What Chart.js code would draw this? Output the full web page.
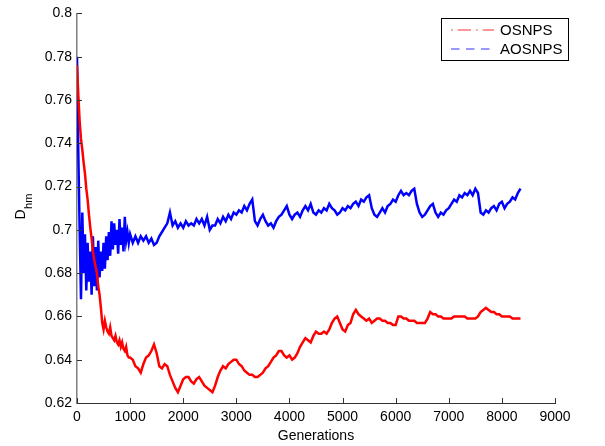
<!DOCTYPE html>
<html>
<head>
<meta charset="utf-8">
<script src="https://cdn.jsdelivr.net/npm/chart.js@4"></script>
<style>
  html, body { margin: 0; padding: 0; background: #fff; }
  canvas { display: block; }
</style>
</head>
<body>
<canvas id="c" width="605" height="446"></canvas>
<script>
// ---- Data ----
const seriesNames = ['OSNPS', 'AOSNPS'];

// sampling grid of generations: every 25 up to 1000, then every 50 up to 8350
const gens = [];
for (let g = 0; g <= 1000; g += 25) gens.push(g);
for (let g = 1050; g <= 8350; g += 50) gens.push(g);

// OSNPS, generations 0..1000 (step 25)
const osnpsEarly = [
  0.776, 0.762, 0.750, 0.742, 0.737, 0.731, 0.726, 0.719, 0.714, 0.707,
  0.701, 0.696, 0.690, 0.686, 0.683, 0.680, 0.674, 0.670, 0.664, 0.657,
  0.654, 0.658, 0.655, 0.653, 0.652, 0.655, 0.651, 0.650, 0.649, 0.651,
  0.648, 0.647, 0.649, 0.646, 0.648, 0.645, 0.644, 0.646, 0.642, 0.641,
  0.641
];
// OSNPS, generations 1050..8350 (step 50)
const osnpsLate = [
  0.640, 0.637, 0.636, 0.634, 0.638, 0.641, 0.642, 0.644, 0.647,
  0.643, 0.637, 0.636, 0.638, 0.637, 0.633, 0.630, 0.627, 0.625, 0.628,
  0.631, 0.632, 0.632, 0.630, 0.629, 0.631, 0.632, 0.630, 0.628, 0.627,
  0.626, 0.625, 0.628, 0.632, 0.635, 0.637, 0.636, 0.638, 0.639, 0.640,
  0.640, 0.638, 0.637, 0.635, 0.634, 0.633, 0.633, 0.632, 0.632, 0.633,
  0.634, 0.636, 0.637, 0.639, 0.641, 0.642, 0.644, 0.644, 0.642, 0.641,
  0.642, 0.640, 0.641, 0.643, 0.646, 0.648, 0.650, 0.649, 0.648, 0.651,
  0.653, 0.652, 0.652, 0.653, 0.652, 0.654, 0.657, 0.659, 0.660, 0.657,
  0.654, 0.653, 0.656, 0.657, 0.661, 0.663, 0.661, 0.660, 0.659, 0.658,
  0.659, 0.657, 0.658, 0.659, 0.659, 0.658, 0.658, 0.657, 0.657, 0.656,
  0.656, 0.660, 0.660, 0.659, 0.659, 0.658, 0.658, 0.658, 0.657, 0.657,
  0.657, 0.657, 0.659, 0.662, 0.661, 0.661, 0.660, 0.660, 0.659, 0.659,
  0.659, 0.659, 0.660, 0.660, 0.660, 0.660, 0.660, 0.659, 0.659, 0.659,
  0.659, 0.660, 0.662, 0.663, 0.664, 0.663, 0.662, 0.662, 0.661, 0.661,
  0.660, 0.660, 0.660, 0.660, 0.659, 0.659, 0.659, 0.659
];

// AOSNPS, generations 0..1000 (step 25)
const aosnpsEarly = [
  0.780, 0.735, 0.700, 0.668, 0.708, 0.680, 0.698, 0.672, 0.694, 0.676,
  0.690, 0.670, 0.697, 0.674, 0.692, 0.672, 0.695, 0.678, 0.690, 0.681,
  0.694, 0.682, 0.697, 0.686, 0.699, 0.688, 0.704, 0.691, 0.703, 0.693,
  0.700, 0.689, 0.705, 0.693, 0.701, 0.690, 0.706, 0.695, 0.699, 0.694,
  0.698
];
// AOSNPS, generations 1050..8350 (step 50)
const aosnpsLate = [
  0.694, 0.697, 0.694, 0.697, 0.695, 0.697, 0.694, 0.696, 0.693,
  0.694, 0.697, 0.699, 0.701, 0.703, 0.708, 0.702, 0.704, 0.701, 0.703,
  0.701, 0.704, 0.702, 0.703, 0.702, 0.705, 0.703, 0.705, 0.702, 0.706,
  0.700, 0.702, 0.702, 0.705, 0.703, 0.706, 0.704, 0.707, 0.705, 0.708,
  0.707, 0.709, 0.708, 0.711, 0.709, 0.712, 0.714, 0.704, 0.702, 0.705,
  0.707, 0.704, 0.702, 0.703, 0.701, 0.704, 0.706, 0.707, 0.709, 0.711,
  0.707, 0.705, 0.707, 0.708, 0.706, 0.709, 0.711, 0.709, 0.712, 0.708,
  0.707, 0.709, 0.708, 0.710, 0.709, 0.712, 0.710, 0.709, 0.707, 0.708,
  0.710, 0.709, 0.711, 0.710, 0.712, 0.713, 0.711, 0.714, 0.713, 0.715,
  0.716, 0.710, 0.707, 0.706, 0.708, 0.710, 0.708, 0.711, 0.712, 0.714,
  0.713, 0.716, 0.718, 0.716, 0.717, 0.716, 0.718, 0.719, 0.712, 0.708,
  0.706, 0.707, 0.709, 0.711, 0.712, 0.708, 0.706, 0.708, 0.707, 0.709,
  0.710, 0.712, 0.714, 0.713, 0.716, 0.715, 0.717, 0.716, 0.718, 0.716,
  0.719, 0.717, 0.708, 0.707, 0.709, 0.708, 0.710, 0.711, 0.709, 0.712,
  0.713, 0.710, 0.712, 0.713, 0.715, 0.714, 0.717, 0.719
];

const osnps = osnpsEarly.concat(osnpsLate);
const aosnps = aosnpsEarly.concat(aosnpsLate);

const xTicksMin = 0, xTicksMax = 9000, xTickStep = 1000;
const yTicksMin = 0.62, yTicksMax = 0.8, yTickStep = 0.02;
const xTitle = 'Generations';
const yTitleMain = 'D', yTitleSub = 'hm';

// ---- Styling ----
const FONT = '"Liberation Sans", Arial, Helvetica, sans-serif';
Chart.defaults.font.family = FONT;
Chart.defaults.font.size = 14;
Chart.defaults.color = '#000';

const toPoints = (vals) => vals.map((v, i) => ({ x: gens[i], y: v }));

// inner ticks + y label with subscript
const matlabAxes = {
  id: 'matlabAxes',
  afterDraw(chart) {
    const ctx = chart.ctx;
    const xs = chart.scales.x, ys = chart.scales.y;
    const a = chart.chartArea;
    ctx.save();
    ctx.strokeStyle = '#333';
    ctx.lineWidth = 1;
    ctx.beginPath();
    ys.ticks.forEach(t => {
      const py = Math.round(ys.getPixelForValue(t.value)) + 0.5;
      ctx.moveTo(a.left, py); ctx.lineTo(a.left + 5, py);
    });
    xs.ticks.forEach(t => {
      const px = Math.round(xs.getPixelForValue(t.value)) + 0.5;
      ctx.moveTo(px, a.bottom); ctx.lineTo(px, a.bottom - 5);
    });
    ctx.stroke();

    // y title: D with subscript hm
    ctx.fillStyle = '#000';
    ctx.translate(25, 219.5);
    ctx.rotate(-Math.PI / 2);
    ctx.textBaseline = 'alphabetic';
    ctx.textAlign = 'left';
    ctx.font = '14px ' + FONT;
    ctx.fillText(yTitleMain, 0, 0);
    const w = ctx.measureText(yTitleMain).width;
    ctx.font = '11px ' + FONT;
    ctx.fillText(yTitleSub, w + 0.5, 6.5);
    ctx.restore();
  }
};

// boxed legend, top-right, MATLAB style
const boxLegend = {
  id: 'boxLegend',
  afterDraw(chart) {
    const ctx = chart.ctx;
    ctx.save();
    ctx.fillStyle = '#fff';
    ctx.fillRect(441, 18, 128, 43);
    ctx.strokeStyle = '#000';
    ctx.lineWidth = 1;
    ctx.strokeRect(441.5, 18.5, 127, 42);
    const rows = [
      { y: 30, color: '#ff3030', dash: [1.7, 5, 13.3, 5] },
      { y: 49, color: '#3030ff', dash: [8.5, 6.5] }
    ];
    ctx.font = '15px ' + FONT;
    ctx.textBaseline = 'middle';
    ctx.textAlign = 'left';
    chart.data.datasets.forEach((ds, i) => {
      const r = rows[i];
      ctx.strokeStyle = r.color;
      ctx.lineWidth = 1;
      ctx.setLineDash(r.dash);
      ctx.beginPath();
      ctx.moveTo(451, r.y); ctx.lineTo(494, r.y);
      ctx.stroke();
      ctx.setLineDash([]);
      ctx.fillStyle = '#000';
      ctx.fillText(ds.label, 500, r.y + 0.5);
    });
    ctx.restore();
  }
};

new Chart(document.getElementById('c'), {
  type: 'line',
  data: {
    datasets: [
      {
        label: seriesNames[0],
        data: toPoints(osnps),
        borderColor: '#ff0000',
        backgroundColor: '#ff0000',
        borderWidth: 2.5,
        pointRadius: 0,
        tension: 0,
        fill: false
      },
      {
        label: seriesNames[1],
        data: toPoints(aosnps),
        borderColor: '#0000ff',
        backgroundColor: '#0000ff',
        borderWidth: 2.5,
        pointRadius: 0,
        tension: 0,
        fill: false
      }
    ]
  },
  options: {
    responsive: false,
    animation: false,
    events: [],
    layout: { padding: { left: 0, right: 50, top: 11, bottom: 0 } },
    plugins: {
      legend: { display: false },
      tooltip: { enabled: false }
    },
    scales: {
      x: {
        type: 'linear',
        min: xTicksMin, max: xTicksMax,
        ticks: {
          stepSize: xTickStep,
          padding: 6,
          maxRotation: 0,
          callback: v => String(v)
        },
        grid: { drawOnChartArea: false, drawTicks: false },
        border: { display: true, color: '#333', width: 1 },
        title: { display: true, text: xTitle, padding: { top: 0, bottom: 1 } },
        afterFit: s => { s.height = 43; }
      },
      y: {
        type: 'linear',
        min: yTicksMin, max: yTicksMax,
        ticks: {
          stepSize: yTickStep,
          padding: 5,
          callback: v => String(Number(v.toFixed(2)))
        },
        grid: { drawOnChartArea: false, drawTicks: false },
        border: { display: true, color: '#808080', width: 1.5 },
        afterFit: s => { s.width = 77; }
      }
    }
  },
  plugins: [matlabAxes, boxLegend]
});
</script>
</body>
</html>
